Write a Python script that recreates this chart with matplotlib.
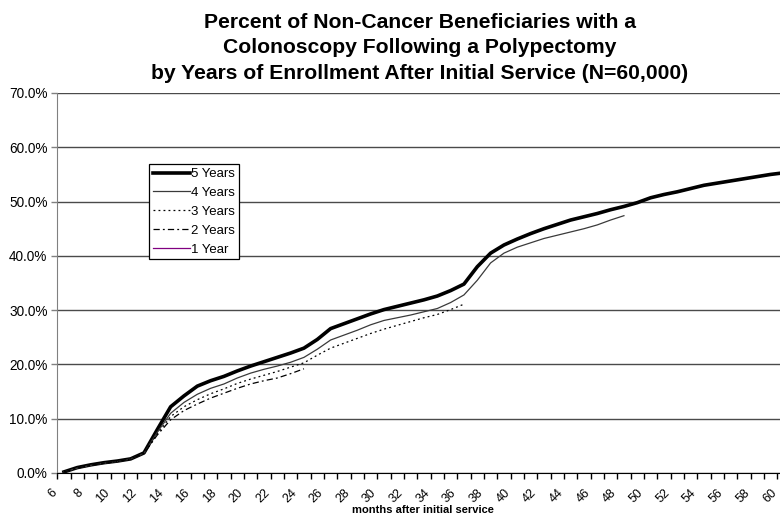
import numpy as np
import matplotlib
matplotlib.use("Agg")
import matplotlib.pyplot as plt
import matplotlib.transforms as mtransforms
from matplotlib.ticker import FuncFormatter

plt.rcParams['font.family'] = ['Liberation Sans', 'DejaVu Sans']

# months after initial service
months = list(range(6, 61))

yr5 = [0.2, 1.0, 1.5, 1.9, 2.2, 2.6, 3.7, 8.0, 12.2, 14.2,
       16.0, 17.0, 17.8, 18.8, 19.7, 20.5, 21.3, 22.1, 23.0, 24.6,
       26.6, 27.5, 28.4, 29.3, 30.1, 30.7, 31.3, 31.9, 32.6, 33.6,
       34.8, 38.0, 40.5, 42.0, 43.1, 44.1, 45.0, 45.8, 46.6, 47.2,
       47.8, 48.5, 49.1, 49.8, 50.7, 51.3, 51.8, 52.4, 53.0, 53.4,
       53.8, 54.2, 54.6, 55.0, 55.3]
yr4 = [0.2, 0.9, 1.4, 1.8, 2.1, 2.6, 3.6, 7.5, 11.0, 13.0,
       14.5, 15.6, 16.4, 17.5, 18.4, 19.1, 19.7, 20.4, 21.3, 22.8,
       24.5, 25.4, 26.3, 27.3, 28.1, 28.6, 29.1, 29.7, 30.3, 31.4,
       32.8, 35.5, 38.7, 40.5, 41.6, 42.4, 43.2, 43.8, 44.4, 45.0,
       45.7, 46.6, 47.4]
yr3 = [0.2, 0.9, 1.4, 1.8, 2.1, 2.6, 3.6, 7.2, 10.4, 12.2,
       13.5, 14.6, 15.5, 16.5, 17.3, 18.0, 18.7, 19.5, 20.3, 21.7,
       23.0, 23.9, 24.8, 25.7, 26.5, 27.2, 27.9, 28.6, 29.2, 30.1,
       31.1]
yr2 = [0.2, 0.9, 1.4, 1.8, 2.1, 2.6, 3.6, 7.0, 9.8, 11.5,
       12.7, 13.8, 14.7, 15.6, 16.4, 17.0, 17.5, 18.3, 19.2]
yr1 = [0.2, 0.9, 1.4, 1.8, 2.1, 2.6, 3.6]

fig = plt.figure(figsize=(7.8, 5.19), dpi=100)
W, H = 780, 519
# plot area runs a bit past the right edge of the picture (cropped original)
x0, x1, ytop, ybot = 57.3, 790.6, 93, 473
ax = fig.add_axes([x0 / W, 1 - ybot / H, (x1 - x0) / W, (ybot - ytop) / H])

ax.plot(months[:len(yr5)], np.array(yr5) / 100, color='black', lw=2.6, label='5 Years', zorder=3)
ax.plot(months[:len(yr4)], np.array(yr4) / 100, color='#3a3a3a', lw=0.9, label='4 Years', zorder=4)
ax.plot(months[:len(yr3)], np.array(yr3) / 100, color='black', lw=0.9, ls=(0, (1.5, 2.5)), label='3 Years', zorder=4)
ax.plot(months[:len(yr2)], np.array(yr2) / 100, color='black', lw=0.9, ls=(0, (5, 2.5, 1.5, 2.5)), label='2 Years', zorder=4)
ax.plot(months[:len(yr1)], np.array(yr1) / 100, color='#800080', lw=0.9, label='1 Year', zorder=2)

ax.set_xlim(5.5, 60.5)
ax.set_ylim(0, 0.70)
ax.set_yticks(np.arange(0, 0.71, 0.1))
ax.yaxis.set_major_formatter(FuncFormatter(lambda v, p: f"{v*100:.1f}%"))
ax.yaxis.grid(True, color='#4a4a4a', lw=1.0)
ax.set_axisbelow(True)

ax.set_xticks(range(6, 61, 2))
ax.set_xticks(np.arange(5.5, 61, 1), minor=True)
ax.tick_params(axis='x', which='major', length=0, pad=10, labelsize=9)
ax.tick_params(axis='x', which='minor', length=4, width=1, direction='out', color='black')
ax.tick_params(axis='y', length=4, width=1, color='#808080', labelsize=9.8, pad=3)
offset = mtransforms.ScaledTranslation(-5 / 100, 0, fig.dpi_scale_trans)
for lab in ax.get_xticklabels():
    lab.set_rotation(45)
    lab.set_ha('right')
    lab.set_va('top')
    lab.set_transform(lab.get_transform() + offset)

for s in ['top', 'right']:
    ax.spines[s].set_visible(False)
ax.spines['left'].set_color('#808080')
ax.spines['bottom'].set_color('black')

fig.text(420 / W, 1 - 13 / H,
         "Percent of Non-Cancer Beneficiaries with a\n"
         "Colonoscopy Following a Polypectomy\n"
         "by Years of Enrollment After Initial Service (N=60,000)",
         ha='center', va='top', fontsize=15.2, fontweight='bold', linespacing=1.43)
fig.text(423 / W, 1 - 510 / H, "months after initial service",
         ha='center', va='center', fontsize=8, fontweight='bold')

leg = ax.legend(loc='upper left', bbox_to_anchor=(149 / W, 1 - 164 / H),
                bbox_transform=fig.transFigure, fontsize=9.5, frameon=True,
                fancybox=False, framealpha=1, edgecolor='black',
                handlelength=2.8, handletextpad=0.1, labelspacing=0.5,
                borderpad=0.3, borderaxespad=0)
leg.get_frame().set_linewidth(0.9)
leg.set_zorder(10)

fig.savefig("out.png", dpi=100)
